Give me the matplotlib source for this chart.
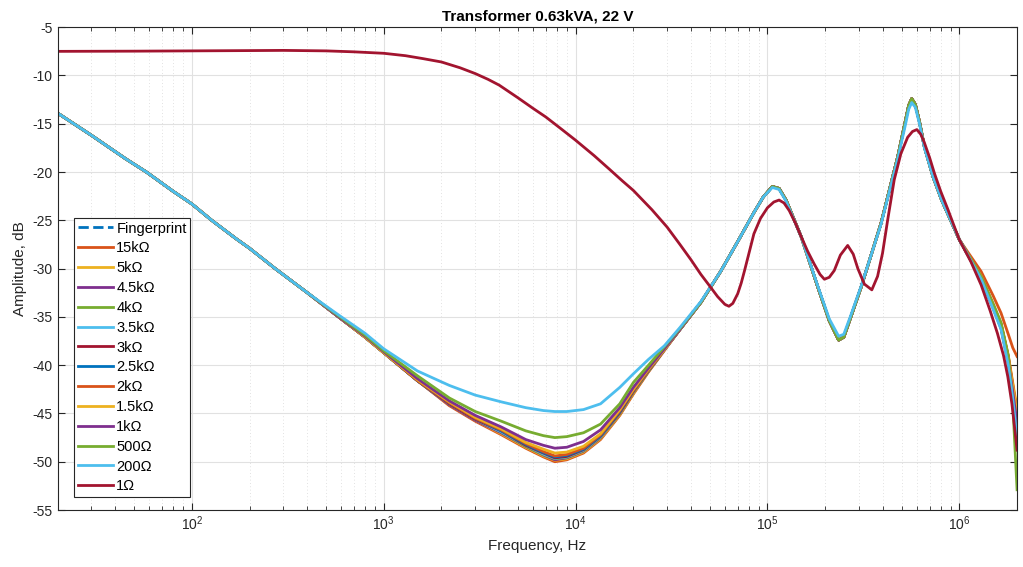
import matplotlib
matplotlib.use("Agg")
import matplotlib.pyplot as plt
from matplotlib.ticker import LogLocator, NullFormatter, MultipleLocator

plt.rcParams['font.family'] = ['Liberation Sans', 'DejaVu Sans']
plt.rcParams['axes.unicode_minus'] = False

# frequency grid (Hz) shared by all load curves
freq = [20, 30, 45, 58, 80, 100, 127, 170, 200, 272, 400,
        582, 800, 1000, 1500, 2200, 3000, 4100, 5500, 6800, 7800,
        9000, 11000, 13500, 17000, 20000, 24000, 29000, 35000, 45000,
        57000, 70000, 85000, 95000, 106000, 115000, 125000, 150000, 183000, 210000,
        235000, 250000, 270000, 308000, 391000, 478000, 520000, 545000, 565000, 590000,
        620000, 658000, 730000, 809000, 1000000,
        1300000, 1500000, 1650000, 1800000, 1900000, 2000000]

# 20 Hz .. 400 Hz (same for every load)
db_low = [-13.9, -16.2, -18.6, -20.0, -22.0, -23.3, -25.0, -26.9, -27.9, -30.0, -32.5]

# 582 Hz .. 45 kHz
mid_fp   = [-35.0, -37.1, -38.7, -41.6, -44.1, -45.7, -47.1, -48.5, -49.4, -49.85, -49.7, -49.0, -47.6, -45.1, -42.9, -40.6, -38.4, -36.3, -33.5]
mid_15k  = [-35.0, -37.1, -38.7, -41.6, -44.2, -45.8, -47.2, -48.6, -49.5, -50.0, -49.8, -49.1, -47.7, -45.2, -43.0, -40.7, -38.5, -36.3, -33.5]
mid_5k   = [-35.0, -37.1, -38.7, -41.6, -44.1, -45.7, -47.1, -48.5, -49.4, -49.85, -49.7, -49.0, -47.6, -45.1, -42.9, -40.6, -38.4, -36.3, -33.5]
mid_4k5  = [-35.0, -37.1, -38.7, -41.6, -44.1, -45.7, -47.0, -48.4, -49.3, -49.8, -49.6, -48.9, -47.5, -45.0, -42.8, -40.6, -38.4, -36.3, -33.5]
mid_4k   = [-35.0, -37.1, -38.7, -41.6, -44.0, -45.6, -46.9, -48.4, -49.25, -49.7, -49.55, -48.85, -47.45, -45.0, -42.8, -40.6, -38.4, -36.3, -33.5]
mid_3k5  = [-35.0, -37.1, -38.7, -41.6, -44.0, -45.6, -46.9, -48.3, -49.2, -49.65, -49.5, -48.8, -47.4, -44.9, -42.7, -40.5, -38.4, -36.3, -33.5]
mid_3k   = [-35.0, -37.1, -38.7, -41.6, -44.0, -45.6, -46.8, -48.3, -49.1, -49.6, -49.45, -48.75, -47.35, -44.9, -42.7, -40.5, -38.4, -36.3, -33.5]
mid_2k5  = [-35.0, -37.1, -38.7, -41.6, -43.9, -45.5, -46.8, -48.2, -49.05, -49.5, -49.35, -48.7, -47.3, -44.8, -42.6, -40.5, -38.4, -36.3, -33.5]
mid_2k   = [-35.0, -37.1, -38.7, -41.6, -43.9, -45.5, -46.7, -48.1, -48.95, -49.4, -49.25, -48.6, -47.2, -44.7, -42.6, -40.5, -38.4, -36.3, -33.5]
mid_1k5  = [-35.0, -37.1, -38.7, -41.5, -43.8, -45.4, -46.6, -48.0, -48.7, -49.1, -49.0, -48.4, -47.1, -44.6, -42.5, -40.4, -38.4, -36.3, -33.5]
mid_1k   = [-35.0, -37.0, -38.6, -41.4, -43.7, -45.2, -46.4, -47.7, -48.3, -48.6, -48.5, -47.9, -46.7, -44.4, -42.3, -40.3, -38.3, -36.3, -33.5]
mid_500  = [-34.9, -36.9, -38.5, -41.1, -43.4, -44.8, -45.8, -46.8, -47.3, -47.5, -47.4, -47.0, -46.1, -44.0, -41.8, -40.0, -38.1, -36.2, -33.5]
mid_200  = [-34.8, -36.7, -38.3, -40.6, -42.1, -43.1, -43.8, -44.4, -44.7, -44.8, -44.8, -44.6, -44.0, -42.3, -40.9, -39.4, -38.0, -36.1, -33.4]

# 57 kHz .. 1 MHz (resonances)
db_peaks = [-30.3, -27.2, -24.2, -22.6, -21.5, -21.7, -22.9, -26.7, -31.9, -35.4,
            -37.4, -37.1, -35.2, -31.9, -25.3, -18.4, -15.0, -13.1, -12.4, -13.0,
            -14.8, -17.4, -20.5, -22.9, -27.0]
peaks_200 = [-30.3, -27.2, -24.2, -22.6, -21.6, -21.8, -23.0, -26.7, -31.8, -35.2,
             -37.0, -36.8, -35.0, -31.8, -25.4, -18.6, -15.4, -13.5, -12.8, -13.3,
             -15.0, -17.5, -20.5, -22.9, -27.0]

# 1.3 MHz .. 2 MHz
high_fp  = [-31.0, -34.0, -36.0, -39.5, -42.5, -45.5]
high_15k = [-30.3, -32.8, -34.6, -36.8, -38.2, -39.1]
high_5k  = [-30.8, -33.7, -35.7, -39.0, -41.8, -44.5]
high_4k5 = [-30.9, -33.8, -35.8, -39.2, -42.2, -45.0]
high_4k  = [-30.8, -33.6, -35.6, -39.0, -42.5, -46.0]
high_3k5 = [-31.0, -34.0, -36.0, -39.6, -43.0, -46.5]
high_3k  = [-31.1, -34.1, -36.2, -39.8, -43.3, -47.0]
high_2k5 = [-31.0, -34.0, -36.0, -39.5, -42.5, -45.5]
high_2k  = [-30.9, -33.8, -35.8, -39.1, -42.0, -44.8]
high_1k5 = [-30.9, -33.9, -35.9, -39.3, -42.2, -45.0]
high_1k  = [-31.0, -34.0, -36.1, -39.6, -42.8, -46.0]
high_500 = [-30.9, -33.8, -35.7, -39.2, -44.0, -52.9]
high_200 = [-31.1, -34.2, -36.3, -40.0, -43.5, -47.5]

# 1 Ohm load, own frequency grid
freq_1 = [20, 50, 100, 200, 300, 500, 700, 1000, 1300, 1600, 2000, 2500, 3000, 3500,
          4000, 5000, 6000, 7000, 8500, 10000, 12500, 15000, 17500, 20000, 25000,
          30000, 35000, 40000, 45000, 50000, 55000, 60000, 63000, 66000, 70000, 73000,
          76000, 85000, 92000, 100000, 108000, 115000, 122000, 130000, 140000, 150000,
          162000, 175000, 188000, 198000, 210000, 223000, 240000, 262000, 280000, 296000,
          320000, 350000, 375000, 398000, 423000, 458000, 496000, 538000, 570000, 601000,
          630000, 656000, 700000, 741000, 800000, 873000, 940000, 1000000, 1150000,
          1300000, 1450000, 1580000, 1700000, 1790000, 1880000, 1950000, 2000000]
db_1 = [-7.5, -7.48, -7.45, -7.42, -7.4, -7.45, -7.55, -7.7, -7.95, -8.25, -8.6, -9.2, -9.8, -10.4,
        -11.0, -12.3, -13.4, -14.3, -15.6, -16.7, -18.3, -19.7, -20.9, -21.9, -23.9,
        -25.7, -27.5, -29.1, -30.6, -31.8, -32.9, -33.7, -33.9, -33.6, -32.6, -31.5,
        -30.2, -26.4, -24.8, -23.7, -23.1, -22.9, -23.2, -24.0, -25.3, -26.7,
        -28.2, -29.5, -30.6, -31.1, -30.9, -30.2, -28.6, -27.6, -28.5, -30.0,
        -31.6, -32.2, -30.8, -28.4, -25.0, -20.8, -18.1, -16.4, -15.8, -15.6,
        -16.1, -16.9, -18.5, -20.1, -22.0, -23.9, -25.6, -27.0, -29.3,
        -31.7, -34.4, -36.7, -39.0, -41.2, -44.0, -46.8, -48.8]

labels = ['Fingerprint', '15k\u03a9', '5k\u03a9', '4.5k\u03a9', '4k\u03a9', '3.5k\u03a9', '3k\u03a9',
          '2.5k\u03a9', '2k\u03a9', '1.5k\u03a9', '1k\u03a9', '500\u03a9', '200\u03a9', '1\u03a9']
colours = ['#0072BD', '#D95319', '#EDB120', '#7E2F8E', '#77AC30', '#4DBEEE', '#A2142F']

series = [
    db_low + mid_fp + db_peaks + high_fp,
    db_low + mid_15k + db_peaks + high_15k,
    db_low + mid_5k + db_peaks + high_5k,
    db_low + mid_4k5 + db_peaks + high_4k5,
    db_low + mid_4k + db_peaks + high_4k,
    db_low + mid_3k5 + db_peaks + high_3k5,
    db_low + mid_3k + db_peaks + high_3k,
    db_low + mid_2k5 + db_peaks + high_2k5,
    db_low + mid_2k + db_peaks + high_2k,
    db_low + mid_1k5 + db_peaks + high_1k5,
    db_low + mid_1k + db_peaks + high_1k,
    db_low + mid_500 + db_peaks + high_500,
    db_low + mid_200 + peaks_200 + high_200,
]

fig = plt.figure(figsize=(10.23, 5.67), dpi=100)
ax = fig.add_axes([0.0564, 0.1005, 0.9378, 0.8515])

for i, db in enumerate(series):
    ls = '--' if i == 0 else '-'
    ax.plot(freq, db, ls, color=colours[i % 7], lw=2.0, label=labels[i])
ax.plot(freq_1, db_1, '-', color=colours[13 % 7], lw=2.0, label=labels[13])

ax.set_xscale('log')
ax.set_xlim(20, 2e6)
ax.set_ylim(-55, -5)
ax.yaxis.set_major_locator(MultipleLocator(5))
ax.xaxis.set_major_locator(LogLocator(base=10, numticks=10))
ax.xaxis.set_minor_locator(LogLocator(base=10, subs=range(2, 10), numticks=50))
ax.xaxis.set_minor_formatter(NullFormatter())

ax.grid(True, which='major', color='#e1e1e1', lw=0.8)
ax.grid(True, which='minor', axis='x', color='#d8d8d8', lw=0.6, ls=(0, (1, 3)))
ax.set_axisbelow(True)
ax.tick_params(which='both', direction='in', top=True, right=True, colors='#262626', labelsize=10)
ax.tick_params(which='major', length=5)
ax.tick_params(which='minor', length=3)
for s in ax.spines.values():
    s.set_color('#262626')
    s.set_linewidth(0.8)

ax.set_xlabel('Frequency, Hz', fontsize=11, color='#262626')
ax.set_ylabel('Amplitude, dB', fontsize=11, color='#262626')
ax.set_title('Transformer 0.63kVA, 22 V', fontsize=11, fontweight='bold', pad=5)

leg = ax.legend(loc='lower left', bbox_to_anchor=(0.017, 0.027), fontsize=10.5,
                handlelength=2.4, labelspacing=0.40, borderpad=0.25, handletextpad=0.25,
                fancybox=False, framealpha=1, borderaxespad=0)
leg.get_frame().set_edgecolor('#262626')
leg.get_frame().set_linewidth(0.8)

plt.savefig('out.png', dpi=100)
